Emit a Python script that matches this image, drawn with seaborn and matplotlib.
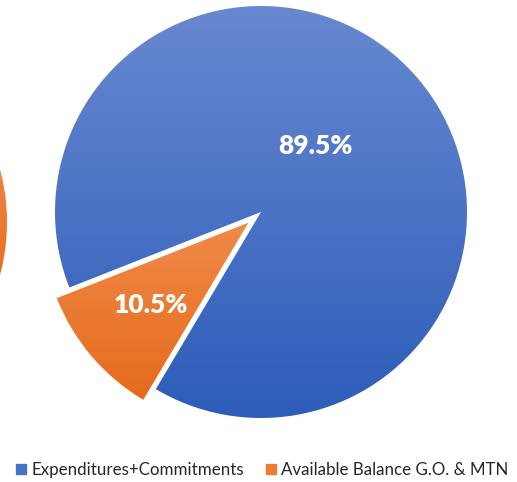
import numpy as np
import matplotlib
matplotlib.use("Agg")
import matplotlib.pyplot as plt
import seaborn as sns
from matplotlib.colors import LinearSegmentedColormap

# Budget split
categories = ["Expenditures+Commitments", "Available Balance G.O. & MTN"]
shares = [89.5, 10.5]
label_texts = ["89.5%", "10.5%"]

sns.set_theme(style="white")
plt.rcParams["font.family"] = ["Lato", "DejaVu Sans"]

base_colors = ["#4472c4", "#ed7d31"]
gradients = [("#6888d0", "#2d5db9"), ("#ef8a48", "#e66b1b")]

W, H = 517, 482
fig = plt.figure(figsize=(W / 100, H / 100), dpi=100)
fig.patch.set_facecolor("white")

R_PX = 206
LIM = 1.2
side = 2 * LIM * R_PX


def pie_axes(cx, cy_top):
    cy = H - cy_top
    ax = fig.add_axes([(cx - side / 2) / W, (cy - side / 2) / H, side / W, side / H])
    ax.set_xlim(-LIM, LIM)
    ax.set_ylim(-LIM, LIM)
    ax.set_aspect("equal")
    ax.axis("off")
    return ax


def shade(ax, wedges, grads):
    # vertical gradient fill clipped to each wedge
    for w, (top, bot) in zip(wedges, grads):
        cmap = LinearSegmentedColormap.from_list("g", [bot, top])
        ext = w.get_path().get_extents(w.get_patch_transform())
        grad = np.linspace(0, 1, 256).reshape(-1, 1)
        im = ax.imshow(grad, cmap=cmap, origin="lower", aspect="auto",
                       extent=[ext.x0, ext.x1, ext.y0, ext.y1], zorder=w.get_zorder() + 0.1)
        im.set_clip_path(w)
        ax.set_xlim(-LIM, LIM)
        ax.set_ylim(-LIM, LIM)


# neighbouring chart, mostly outside the canvas (its orange slice faces right)
ax_prev = pie_axes(7 - R_PX, 222)
w_prev, _ = ax_prev.pie(shares, colors=base_colors, startangle=360 * shares[1] / 200,
                        counterclock=True, radius=1,
                        wedgeprops=dict(edgecolor="white", linewidth=2))
shade(ax_prev, w_prev, gradients)

# main pie
ax = pie_axes(261, 212)
wedges, texts, autotexts = ax.pie(
    shares, colors=base_colors, startangle=239.3, counterclock=True,
    explode=[0, 0.08], radius=1, autopct="%1.1f%%", pctdistance=0.62,
    wedgeprops=dict(edgecolor="white", linewidth=3),
)
shade(ax, wedges, gradients)

for t, s in zip(autotexts, label_texts):
    t.set_text(s)
    t.set_color("white")
    t.set_fontsize(19)
    t.set_fontweight("heavy")
    t.set_zorder(10)
autotexts[0].set_position((0.265, 0.32))

handles = [plt.Rectangle((0, 0), 1, 1, color=c) for c in base_colors]
fig.legend(handles, categories, loc="center", bbox_to_anchor=(262 / W, 1 - 470 / H),
           ncol=2, frameon=False, fontsize=12.2, handlelength=0.6, handleheight=0.6,
           handletextpad=0.3, columnspacing=1.3)

fig.savefig("out.png", dpi=100, facecolor="white")
